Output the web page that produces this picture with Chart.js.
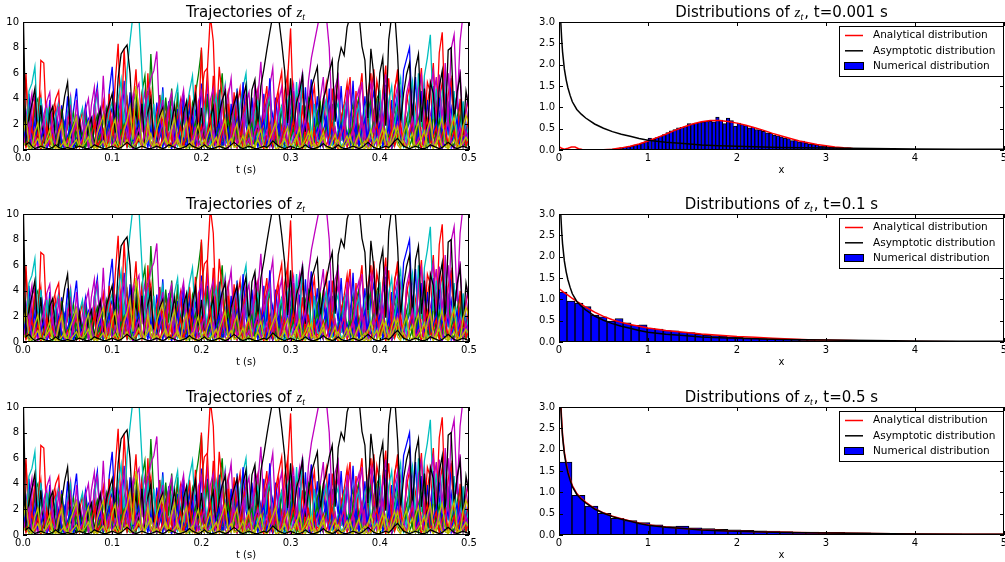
<!DOCTYPE html>
<html>
<head>
<meta charset="utf-8">
<script src="https://cdn.jsdelivr.net/npm/chart.js@4.4.0/dist/chart.umd.min.js"></script>
<style>
  body { margin: 0; width: 1005px; height: 562px; overflow: hidden; background: #fff; position: relative; }
  .panel { position: absolute; }
</style>
</head>
<body>
<script>
// time grid of the trajectories: 151 samples over 0..0.5 s
var tStep = 0.5 / 150;

// trajectories (same set in all three left panels)
var trajB1 = [
  3.5, 0.8, 4.4, 1.2, 3.1, 0.5, 4.0, 2.1, 0.7, 3.9,
  1.0, 2.7, 0.4, 3.5, 1.4, 4.2, 0.9, 3.1, 4.8, 1.1,
  0.6, 3.4, 1.5, 0.5, 3.5, 5.0, 1.2, 2.8, 0.9, 4.6,
  6.5, 1.9, 3.6, 0.8, 5.4, 1.5, 4.5, 0.7, 3.8, 1.3,
  4.1, 0.6, 4.6, 2.0, 0.9, 3.7, 1.1, 4.9, 0.8, 3.8,
  1.4, 0.5, 3.2, 1.0, 4.3, 0.7, 3.4, 1.6, 4.5, 0.9,
  5.2, 1.3, 4.4, 0.6, 3.2, 1.8, 4.7, 0.9, 2.5, 0.4,
  3.6, 1.2, 4.8, 0.7, 5.3, 1.9, 0.8, 4.1, 1.3, 3.0,
  0.6, 4.4, 1.5, 5.6, 0.9, 4.1, 1.4, 3.2, 0.5, 3.5,
  1.7, 4.6, 0.8, 3.7, 1.2, 4.9, 0.6, 5.5, 1.8, 4.2,
  0.9, 3.3, 1.4, 4.8, 0.7, 3.5, 1.6, 5.0, 0.8, 3.7,
  1.3, 5.4, 0.9, 4.1, 1.7, 4.2, 0.6, 3.4, 4.6, 1.1,
  3.8, 0.7, 5.1, 1.5, 3.9, 0.8, 4.5, 1.9, 6.2, 7.1,
  8.0, 2.2, 5.7, 0.9, 4.6, 1.3, 3.9, 0.7, 5.0, 1.6,
  4.1, 0.8, 4.4, 1.2, 5.6, 2.0, 4.5, 0.9, 3.3, 1.1,
  3.6
];
var trajG1 = [
  5.4, 1.2, 3.1, 0.6, 3.5, 4.0, 0.8, 1.9, 0.4, 3.4,
  0.9, 2.2, 0.5, 3.2, 1.0, 0.3, 2.1, 2.9, 0.6, 1.8,
  0.4, 2.8, 1.1, 0.3, 1.9, 2.7, 0.5, 2.4, 3.3, 0.8,
  0.4, 2.3, 3.1, 0.7, 2.9, 4.0, 1.0, 3.6, 4.6, 1.2,
  4.5, 5.8, 1.6, 7.5, 3.1, 1.3, 4.3, 0.9, 4.1, 1.5,
  4.8, 1.1, 4.5, 0.8, 2.5, 3.4, 0.7, 3.7, 4.4, 5.9,
  7.8, 2.2, 3.9, 1.0, 4.7, 0.8, 3.8, 6.0, 1.3, 3.1,
  0.6, 3.3, 1.0, 0.4, 2.7, 3.6, 0.7, 1.9, 0.5, 3.7,
  1.2, 0.4, 2.9, 3.8, 0.8, 1.9, 0.5, 3.5, 1.0, 0.3,
  2.5, 3.4, 0.7, 1.6, 0.4, 3.3, 4.0, 1.1, 0.5, 2.9,
  3.7, 0.9, 1.8, 0.4, 3.6, 1.0, 0.3, 2.6, 3.4, 0.8,
  0.4, 2.5, 3.3, 4.1, 1.2, 0.5, 3.0, 3.9, 0.9, 4.0,
  1.1, 0.4, 3.2, 0.8, 0.3, 2.5, 3.4, 0.7, 0.3, 2.4,
  3.3, 0.6, 0.3, 2.3, 3.2, 4.1, 1.0, 0.4, 2.8, 3.7,
  0.8, 0.3, 2.7, 3.6, 0.7, 0.3, 2.6, 3.5, 0.8, 0.4,
  2.3
];
var trajR1 = [
  2.1, 6.0, 0.8, 1.5, 4.1, 0.7, 7.0, 6.8, 1.2, 0.5,
  2.9, 4.0, 4.6, 0.6, 0.3, 2.2, 3.4, 0.5, 0.2, 1.9,
  3.1, 0.6, 0.3, 1.5, 2.7, 0.4, 2.4, 3.8, 0.7, 4.4,
  1.1, 5.2, 8.3, 1.6, 7.9, 3.6, 0.8, 3.3, 0.6, 2.9,
  4.2, 0.9, 6.0, 1.3, 0.5, 2.8, 4.0, 0.7, 0.4, 3.5,
  0.8, 0.3, 2.6, 3.9, 0.6, 2.4, 4.3, 1.0, 5.1, 1.4,
  8.0, 2.0, 6.2, 10.5, 8.5, 1.8, 6.5, 4.1, 0.9, 3.6,
  0.7, 4.5, 1.2, 0.5, 2.7, 3.8, 0.6, 0.4, 3.0, 4.6,
  0.9, 3.3, 5.0, 1.0, 0.5, 3.7, 4.9, 6.1, 1.3, 5.5,
  9.5, 2.4, 4.0, 0.8, 3.5, 0.5, 2.9, 4.1, 1.1, 0.6,
  0.4, 2.5, 3.9, 0.9, 4.8, 1.2, 0.6, 2.4, 3.6, 5.2,
  1.5, 0.7, 4.6, 1.0, 0.5, 2.8, 4.4, 6.0, 1.4, 5.4,
  4.1, 0.9, 3.7, 5.6, 1.2, 4.7, 6.3, 1.6, 0.8, 3.8,
  5.0, 1.1, 0.6, 4.2, 6.4, 1.5, 5.3, 4.5, 6.8, 2.0,
  7.6, 9.2, 2.5, 4.3, 5.5, 1.2, 0.8, 4.0, 1.0, 0.6,
  3.5
];
var trajC1 = [
  2.5, 0.7, 4.6, 5.2, 6.5, 1.8, 4.1, 0.8, 3.3, 0.5,
  0.4, 2.6, 3.5, 0.7, 0.3, 2.8, 4.0, 1.0, 0.5, 2.4,
  3.3, 0.6, 0.3, 2.0, 3.0, 4.5, 1.1, 0.6, 1.7, 2.9,
  3.8, 0.8, 4.0, 5.5, 1.4, 6.2, 8.5, 10.6, 11.0, 10.4,
  6.0, 1.2, 4.3, 0.8, 3.6, 0.6, 3.1, 4.4, 0.9, 0.4,
  2.7, 3.9, 5.0, 1.2, 0.6, 3.2, 4.6, 5.8, 1.5, 0.8,
  2.2, 3.4, 0.7, 0.4, 3.1, 4.2, 0.9, 3.7, 5.1, 1.3,
  0.6, 3.3, 4.5, 1.0, 0.5, 3.5, 0.8, 0.3, 2.8, 3.9,
  0.9, 0.4, 3.2, 4.3, 0.7, 0.3, 2.6, 3.4, 0.6, 3.8,
  4.6, 1.1, 5.3, 1.4, 6.1, 1.6, 3.2, 0.7, 3.6, 0.8,
  0.4, 2.8, 3.9, 0.8, 0.4, 2.9, 3.7, 0.7, 3.2, 4.1,
  0.9, 0.4, 2.7, 3.5, 0.6, 3.1, 4.2, 1.0, 0.5, 3.4,
  4.5, 1.1, 0.6, 3.8, 5.0, 1.3, 4.4, 5.6, 1.4, 0.7,
  4.2, 5.4, 1.3, 6.0, 1.8, 5.8, 7.2, 9.0, 2.4, 4.8,
  1.1, 4.5, 5.7, 1.3, 0.7, 4.6, 1.0, 0.5, 3.8, 0.8,
  2.1
];
var trajM1 = [
  1.8, 2.9, 0.6, 3.6, 4.2, 1.0, 0.5, 2.7, 3.8, 4.5,
  1.0, 0.4, 3.4, 0.7, 0.3, 2.5, 3.3, 0.6, 3.9, 1.0,
  0.5, 3.1, 4.0, 0.9, 3.6, 4.6, 1.2, 5.8, 1.4, 0.6,
  2.6, 3.5, 0.7, 3.7, 4.8, 1.1, 0.5, 3.9, 4.6, 5.2,
  1.4, 3.3, 4.4, 5.6, 6.2, 7.7, 2.0, 3.9, 0.8, 3.6,
  4.5, 1.0, 0.5, 3.5, 4.7, 1.1, 0.6, 3.4, 0.7, 3.8,
  4.6, 1.0, 0.5, 3.9, 4.8, 1.1, 0.6, 3.7, 4.9, 1.2,
  0.6, 3.5, 4.4, 0.9, 0.4, 3.6, 4.5, 1.0, 5.0, 4.1,
  6.9, 2.0, 3.7, 4.6, 1.0, 0.5, 3.8, 4.9, 1.1, 0.6,
  3.9, 5.1, 1.3, 4.7, 6.0, 1.6, 5.4, 7.2, 8.4, 9.6,
  10.8, 11.0, 10.5, 8.0, 2.3, 4.9, 5.8, 1.4, 0.7, 4.7,
  1.2, 0.6, 3.9, 4.8, 1.0, 0.5, 4.1, 5.2, 1.3, 3.3,
  0.7, 3.8, 4.9, 1.1, 0.6, 3.9, 5.0, 1.3, 0.6, 4.4,
  5.5, 1.4, 0.8, 4.6, 5.8, 1.5, 0.8, 4.8, 6.1, 1.6,
  5.9, 1.7, 6.8, 2.1, 7.9, 9.0, 3.2, 8.5, 10.6, 11.0,
  10.5
];
var trajY1 = [
  1.2, 2.5, 0.4, 0.2, 1.4, 2.1, 0.3, 0.1, 0.9, 1.6,
  0.3, 0.1, 1.3, 2.0, 0.4, 0.2, 1.2, 1.9, 2.6, 0.5,
  0.2, 1.5, 2.2, 0.4, 0.1, 1.3, 2.0, 2.7, 0.5, 0.2,
  1.7, 2.4, 0.5, 0.2, 1.6, 2.3, 3.4, 0.8, 5.0, 3.2,
  0.7, 0.3, 2.2, 0.5, 0.2, 1.6, 2.4, 3.0, 0.6, 0.3,
  1.7, 2.5, 0.5, 0.2, 1.5, 2.2, 0.4, 0.2, 1.3, 2.0,
  0.4, 0.2, 1.1, 1.8, 0.3, 0.1, 1.0, 1.7, 2.4, 0.5,
  0.2, 1.4, 2.1, 0.4, 0.1, 1.2, 1.9, 0.4, 0.1, 1.0,
  1.6, 0.3, 0.1, 0.9, 1.5, 2.2, 0.4, 0.1, 1.2, 1.8,
  0.3, 0.1, 1.0, 1.7, 0.3, 0.1, 0.9, 1.5, 0.2, 0.1,
  0.8, 1.4, 0.2, 0.1, 0.7, 1.2, 0.2, 0.1, 0.6, 1.1,
  0.2, 0.1, 0.7, 1.3, 0.2, 0.1, 0.9, 1.6, 0.3, 0.1,
  1.0, 1.7, 0.3, 0.1, 1.2, 1.9, 0.4, 0.1, 1.3, 2.0,
  0.4, 0.2, 1.5, 2.2, 0.4, 0.2, 1.6, 2.4, 0.5, 0.2,
  1.7, 2.5, 0.5, 0.2, 1.8, 2.6, 0.5, 0.2, 1.8, 2.7,
  1.9
];
var trajK1 = [
  4.0, 0.9, 2.5, 3.6, 4.8, 0.8, 3.5, 0.6, 0.3, 2.8,
  3.4, 0.6, 0.3, 2.6, 4.2, 5.3, 1.2, 0.5, 0.2, 2.3,
  0.4, 0.2, 1.8, 2.5, 0.3, 2.1, 3.2, 0.5, 2.8, 3.6,
  4.4, 1.3, 5.6, 7.5, 7.9, 8.2, 6.0, 1.5, 3.2, 0.6,
  3.6, 0.5, 2.9, 4.0, 0.6, 0.3, 2.7, 3.3, 0.5, 0.3,
  2.2, 3.5, 0.6, 0.3, 2.9, 3.8, 0.6, 3.1, 4.3, 0.8,
  3.3, 0.5, 0.3, 2.5, 3.4, 0.5, 2.8, 3.9, 4.6, 1.1,
  2.7, 3.6, 4.4, 1.0, 4.0, 5.1, 1.4, 4.7, 5.5, 1.6,
  5.0, 6.3, 7.8, 9.2, 10.5, 11.0, 10.3, 8.4, 6.2, 2.1,
  5.6, 1.5, 3.7, 4.5, 5.8, 1.4, 3.4, 4.9, 5.7, 6.5,
  2.0, 4.0, 4.8, 6.1, 7.0, 2.2, 6.8, 8.0, 7.4, 9.6,
  10.4, 11.0, 10.2, 10.6, 8.1, 7.0, 2.5, 7.9, 5.8, 1.7,
  6.0, 7.2, 1.9, 8.6, 10.5, 10.8, 7.4, 2.1, 4.4, 5.9,
  6.8, 1.9, 6.4, 7.5, 2.2, 4.8, 1.1, 5.3, 4.4, 1.0,
  4.9, 6.2, 1.6, 7.8, 8.0, 2.3, 4.5, 5.8, 1.2, 4.6,
  3.2
];
var trajB2 = [
  1.5, 2.9, 0.4, 0.2, 1.6, 2.5, 0.5, 0.2, 1.8, 2.9,
  0.6, 0.2, 0.7, 1.4, 2.2, 0.5, 0.2, 1.7, 2.6, 0.6,
  0.2, 0.6, 1.3, 2.1, 3.0, 0.7, 0.3, 0.8, 1.5, 2.4,
  3.3, 0.8, 0.3, 1.0, 1.9, 2.8, 3.8, 0.9, 0.4, 1.1,
  1.9, 2.9, 0.6, 0.2, 0.7, 1.5, 2.4, 0.5, 2.7, 3.5,
  0.8, 0.3, 0.9, 1.7, 2.6, 0.6, 0.2, 2.0, 3.0, 0.7,
  0.3, 0.8, 1.6, 2.5, 0.5, 2.8, 3.7, 0.9, 0.4, 1.0,
  1.8, 2.7, 0.6, 0.2, 2.1, 3.1, 0.7, 0.3, 0.8, 1.6,
  2.5, 0.6, 0.2, 1.9, 2.9, 0.7, 3.2, 0.8, 0.3, 2.2,
  3.1, 0.7, 0.3, 0.9, 1.7, 2.6, 0.6, 0.2, 2.0, 2.9,
  0.7, 0.3, 2.2, 3.3, 0.8, 0.3, 0.9, 1.8, 2.7, 0.6,
  0.3, 2.1, 3.0, 0.7, 0.3, 2.3, 3.4, 0.8, 0.3, 1.0,
  1.8, 2.8, 0.6, 0.3, 2.2, 3.2, 4.3, 1.0, 0.4, 1.4,
  2.3, 3.4, 0.8, 0.3, 2.5, 3.6, 0.8, 0.3, 1.0, 1.9,
  2.9, 0.7, 0.3, 2.2, 3.3, 0.8, 0.3, 2.5, 3.5, 0.8,
  1.6
];
var trajG2 = [
  0.6, 1.0, 0.2, 0.9, 1.5, 0.3, 0.1, 0.8, 1.3, 0.3,
  0.1, 0.7, 1.2, 0.2, 1.3, 2.0, 0.4, 0.2, 1.4, 2.1,
  0.4, 0.2, 1.5, 2.3, 0.5, 0.2, 0.6, 1.1, 1.8, 0.4,
  2.0, 2.9, 0.6, 0.2, 0.8, 1.4, 2.2, 0.5, 0.2, 1.5,
  2.4, 0.5, 2.6, 3.5, 0.8, 0.3, 1.0, 1.7, 2.7, 0.6,
  0.3, 1.9, 3.0, 0.7, 0.3, 2.2, 3.3, 0.7, 0.3, 0.9,
  1.6, 2.5, 0.5, 0.2, 1.9, 2.8, 0.6, 0.2, 0.7, 1.3,
  2.1, 0.4, 0.2, 1.4, 2.2, 0.5, 0.2, 1.6, 2.5, 0.5,
  0.2, 1.7, 2.6, 0.6, 0.2, 0.6, 1.2, 1.9, 0.4, 0.2,
  1.3, 2.1, 0.4, 0.2, 1.6, 2.4, 0.5, 0.2, 1.8, 2.7,
  0.6, 0.2, 2.0, 3.0, 0.7, 0.3, 0.8, 1.5, 2.4, 0.5,
  2.6, 3.6, 0.8, 0.3, 1.1, 1.9, 2.9, 0.6, 3.1, 4.0,
  4.5, 1.0, 0.4, 1.4, 2.3, 3.3, 0.7, 0.3, 0.9, 1.6,
  2.5, 0.5, 0.2, 1.8, 2.8, 0.6, 0.2, 2.1, 3.1, 0.7,
  0.3, 0.8, 1.5, 2.4, 0.5, 0.2, 1.8, 2.7, 0.6, 0.2,
  0.7
];
var trajR2 = [
  3.2, 5.5, 1.2, 2.7, 0.6, 2.9, 4.3, 0.9, 0.4, 1.4,
  2.3, 3.4, 0.7, 0.3, 1.0, 1.8, 2.7, 0.5, 0.2, 0.7,
  1.3, 2.1, 0.4, 0.2, 1.6, 2.5, 0.5, 0.2, 1.9, 2.8,
  0.6, 0.3, 2.2, 3.2, 0.7, 0.3, 2.5, 3.6, 6.3, 1.6,
  3.1, 0.7, 3.3, 4.6, 1.0, 0.4, 1.5, 2.4, 3.5, 0.8,
  0.3, 2.6, 3.8, 0.8, 0.3, 2.9, 4.1, 0.9, 0.4, 3.1,
  4.4, 6.1, 6.4, 1.5, 5.8, 1.3, 3.0, 0.7, 3.2, 4.5,
  1.0, 0.4, 3.4, 4.8, 1.1, 0.5, 1.6, 2.6, 3.7, 0.8,
  0.3, 2.8, 4.0, 0.9, 0.4, 3.1, 4.4, 1.0, 4.6, 5.9,
  1.4, 3.0, 0.7, 3.2, 4.5, 1.0, 0.4, 3.5, 5.0, 1.1,
  0.5, 3.7, 5.2, 1.2, 0.5, 3.9, 5.5, 1.2, 0.6, 4.0,
  5.7, 1.3, 0.6, 4.2, 6.0, 1.4, 0.6, 4.4, 6.3, 1.5,
  0.7, 4.6, 6.6, 1.5, 0.7, 4.9, 5.8, 1.3, 0.6, 4.3,
  3.1, 0.7, 3.3, 4.7, 1.0, 0.4, 3.6, 5.1, 1.2, 0.5,
  3.8, 5.3, 1.2, 0.5, 1.9, 2.9, 4.1, 0.9, 0.4, 3.0,
  4.2
];
var trajC2 = [
  0.9, 1.5, 2.4, 0.5, 0.2, 1.7, 2.6, 0.5, 0.2, 0.6,
  1.1, 1.8, 0.4, 0.1, 1.3, 2.1, 0.4, 0.2, 0.4, 0.8,
  1.4, 2.2, 0.4, 0.2, 1.6, 2.5, 0.5, 0.2, 0.6, 1.1,
  1.9, 0.4, 0.2, 1.2, 2.0, 0.4, 0.2, 1.4, 2.3, 0.5,
  2.6, 3.6, 0.8, 0.3, 1.0, 1.8, 2.8, 0.6, 0.3, 2.0,
  3.1, 0.7, 0.3, 2.2, 3.4, 0.7, 0.3, 0.9, 1.6, 2.5,
  0.5, 0.2, 1.8, 2.9, 0.6, 3.2, 4.4, 1.0, 0.4, 1.4,
  2.3, 3.5, 0.8, 3.6, 4.9, 6.0, 1.4, 2.9, 0.6, 1.3,
  0.3, 1.4, 0.2, 0.5, 0.9, 1.5, 0.2, 0.5, 0.1, 0.6,
  1.1, 0.2, 0.4, 0.8, 1.3, 0.2, 0.4, 0.7, 1.2, 0.2,
  0.4, 0.8, 1.4, 0.2, 0.5, 0.9, 1.6, 0.3, 0.6, 1.0,
  1.8, 0.3, 0.6, 1.1, 1.9, 0.3, 0.7, 0.1, 0.8, 1.3,
  0.2, 0.4, 0.7, 1.2, 0.2, 0.4, 0.8, 1.4, 0.2, 0.5,
  1.0, 1.7, 0.3, 0.6, 1.1, 1.9, 0.3, 0.7, 1.3, 2.1,
  0.4, 0.8, 1.5, 2.4, 0.5, 1.0, 0.2, 1.1, 1.8, 0.3,
  0.7
];
var trajM2 = [
  2.8, 0.6, 3.0, 4.4, 0.9, 2.1, 0.4, 2.3, 3.5, 0.7,
  1.6, 2.6, 3.8, 0.8, 0.3, 2.9, 4.2, 0.9, 2.0, 0.4,
  2.2, 3.3, 0.7, 3.5, 4.9, 1.0, 2.4, 0.5, 2.6, 3.7,
  0.8, 1.7, 2.8, 4.0, 0.8, 0.3, 3.0, 4.3, 0.9, 2.0,
  3.2, 4.6, 1.0, 2.2, 0.4, 2.4, 3.6, 0.8, 1.7, 2.7,
  3.9, 0.8, 1.9, 3.0, 4.3, 0.9, 2.1, 0.4, 2.3, 3.4,
  0.7, 3.6, 5.1, 1.1, 2.5, 0.5, 2.7, 3.9, 0.8, 4.1,
  5.6, 1.2, 2.8, 0.5, 3.0, 4.4, 0.9, 2.2, 3.3, 4.7,
  1.0, 2.3, 3.5, 5.0, 6.4, 1.4, 3.2, 0.6, 3.4, 4.8,
  1.0, 2.4, 3.6, 5.2, 1.1, 2.6, 3.9, 5.5, 1.2, 2.7,
  4.0, 5.7, 1.2, 2.9, 0.6, 3.1, 4.5, 1.0, 2.3, 3.4,
  4.9, 1.1, 2.5, 3.7, 5.3, 1.1, 2.7, 4.0, 5.6, 1.2,
  2.8, 4.1, 5.9, 1.3, 3.0, 0.6, 3.2, 4.6, 1.0, 2.3,
  3.5, 5.0, 1.1, 2.5, 3.7, 5.3, 1.2, 2.7, 4.0, 5.7,
  1.2, 2.9, 4.2, 6.0, 1.3, 3.0, 4.4, 6.3, 1.4, 3.2,
  4.6
];
var trajY2 = [
  0.3, 0.6, 0.1, 0.2, 0.5, 0.9, 0.2, 0.3, 0.6, 1.0,
  0.2, 0.3, 0.1, 0.4, 0.7, 0.1, 0.2, 0.5, 0.8, 0.2,
  0.3, 0.6, 1.0, 0.2, 0.3, 0.1, 0.4, 0.7, 0.1, 0.2,
  0.3, 0.6, 0.1, 0.2, 0.4, 0.8, 0.2, 0.3, 0.6, 1.1,
  0.2, 0.4, 0.8, 1.3, 0.3, 0.5, 0.1, 0.6, 1.0, 0.2,
  0.3, 0.5, 0.9, 0.2, 0.3, 0.1, 0.4, 0.7, 0.1, 0.2,
  0.4, 0.8, 0.2, 0.3, 0.6, 1.0, 0.2, 0.3, 0.1, 0.5,
  0.9, 0.2, 0.3, 0.6, 1.1, 0.2, 0.4, 0.1, 0.4, 0.8,
  0.2, 0.3, 0.1, 0.4, 0.7, 0.1, 0.2, 0.5, 0.9, 0.2,
  0.3, 0.6, 1.1, 0.2, 0.4, 0.8, 1.4, 0.3, 0.5, 0.1,
  0.6, 1.0, 0.2, 0.3, 0.1, 0.5, 0.8, 0.2, 0.3, 0.6,
  1.1, 0.2, 0.4, 0.1, 0.4, 0.7, 0.1, 0.2, 0.5, 0.9,
  0.2, 1.0, 1.6, 0.3, 0.6, 1.1, 1.8, 0.4, 0.7, 0.1,
  0.8, 1.3, 0.2, 0.5, 0.9, 1.5, 0.3, 0.5, 0.1, 0.6,
  1.0, 0.2, 0.3, 0.1, 0.4, 0.8, 0.2, 0.3, 0.6, 1.0,
  0.6
];
var trajK2 = [
  12.0, 0.4, 0.6, 0.3, 0.1, 0.2, 0.3, 0.2, 0.1, 0.1,
  0.2, 0.4, 0.2, 0.1, 0.1, 0.2, 0.1, 0.1, 0.2, 0.3,
  0.2, 0.1, 0.1, 0.2, 0.4, 0.3, 0.2, 0.1, 0.1, 0.2,
  0.3, 0.2, 0.1, 0.2, 0.4, 0.6, 0.4, 0.2, 0.1, 0.2,
  0.3, 0.2, 0.1, 0.1, 0.2, 0.3, 0.2, 0.1, 0.2, 0.4,
  0.3, 0.2, 0.1, 0.1, 0.2, 0.3, 0.5, 0.3, 0.2, 0.1,
  0.2, 0.4, 0.2, 0.1, 0.1, 0.2, 0.3, 0.2, 0.1, 0.2,
  0.4, 0.6, 0.4, 0.2, 0.1, 0.2, 0.3, 0.2, 0.1, 0.1,
  0.2, 0.3, 0.2, 0.4, 0.7, 0.5, 0.3, 0.2, 0.1, 0.2,
  0.3, 0.2, 0.1, 0.1, 0.2, 0.4, 0.2, 0.1, 0.1, 0.2,
  0.3, 0.5, 0.3, 0.2, 0.1, 0.2, 0.4, 0.2, 0.1, 0.1,
  0.2, 0.3, 0.2, 0.1, 0.2, 0.4, 0.6, 0.4, 0.2, 0.1,
  0.1, 0.2, 0.3, 0.2, 0.4, 0.7, 0.9, 0.6, 0.3, 0.2,
  0.1, 0.2, 0.3, 0.2, 0.1, 0.1, 0.2, 0.4, 0.3, 0.2,
  0.1, 0.2, 0.4, 0.6, 0.4, 0.2, 0.1, 0.2, 0.3, 0.2,
  0.1
];
var trajB3 = [
  0.4, 1.8, 0.3, 1.2, 2.2, 0.2, 0.9, 1.6, 0.1, 0.7,
  1.5, 0.3, 2.0, 0.5, 0.1, 1.1, 1.9, 0.2, 0.8, 1.4,
  0.2, 1.7, 2.4, 0.4, 0.1, 1.0, 1.8, 0.3, 1.3, 2.1,
  0.3, 0.9, 1.6, 0.2, 1.2, 2.0, 0.4, 0.1, 1.5, 2.3,
  0.4, 1.1, 0.2, 1.7, 0.3, 1.0, 1.9, 0.2, 1.4, 0.5,
  0.1, 1.2, 2.2, 0.4, 0.9, 0.2, 1.6, 2.5, 0.3, 1.1,
  1.8, 0.2, 0.8, 1.5, 0.1, 1.3, 2.1, 0.3, 0.9, 1.7,
  0.2, 1.4, 2.4, 0.4, 0.1, 1.0, 1.8, 0.3, 1.2, 0.2,
  1.6, 2.3, 0.3, 0.9, 0.1, 1.4, 2.0, 0.4, 1.1, 1.9,
  0.2, 0.8, 1.5, 0.3, 1.3, 2.2, 0.4, 0.1, 1.0, 1.7,
  0.3, 1.5, 2.5, 0.4, 0.9, 0.2, 1.2, 2.0, 0.3, 1.4,
  0.1, 1.1, 1.9, 0.3, 1.6, 2.4, 0.4, 0.8, 0.2, 1.3,
  2.1, 0.3, 1.0, 1.8, 0.2, 1.5, 2.6, 0.4, 0.9, 0.1,
  1.2, 2.0, 0.3, 1.4, 0.2, 0.9, 1.7, 0.3, 1.3, 2.2,
  0.4, 0.1, 1.1, 1.9, 0.2, 1.6, 2.4, 0.3, 0.8, 1.5,
  0.3
];
var trajR3 = [
  1.1, 0.2, 0.9, 1.7, 0.3, 1.4, 0.1, 0.8, 2.0, 0.4,
  1.2, 0.2, 1.6, 2.3, 0.3, 0.9, 0.1, 1.3, 1.9, 0.2,
  0.7, 1.5, 0.3, 1.1, 2.1, 0.2, 0.8, 1.6, 0.1, 1.2,
  2.2, 0.4, 0.1, 1.0, 1.8, 0.3, 1.4, 2.5, 0.4, 0.9,
  0.2, 1.3, 2.0, 0.3, 0.8, 1.7, 0.1, 1.1, 2.3, 0.4,
  1.5, 0.2, 0.9, 1.8, 0.3, 1.2, 2.4, 0.4, 0.1, 1.0,
  1.9, 0.3, 1.4, 2.6, 0.4, 0.9, 0.2, 1.3, 2.1, 0.3,
  1.0, 1.8, 0.2, 1.5, 0.1, 0.9, 1.6, 0.3, 1.2, 2.2,
  0.4, 0.1, 1.1, 2.0, 0.3, 1.4, 0.2, 0.8, 1.7, 0.2,
  1.3, 2.3, 0.4, 0.9, 0.1, 1.2, 2.0, 0.3, 1.5, 0.2,
  0.8, 1.6, 0.3, 1.1, 2.2, 0.4, 0.1, 1.3, 1.9, 0.2,
  1.0, 1.7, 0.3, 1.4, 2.5, 0.4, 0.9, 0.2, 1.2, 2.0,
  0.3, 1.5, 0.1, 0.8, 1.6, 0.3, 1.1, 2.1, 0.4, 0.2,
  1.3, 2.2, 0.3, 0.9, 0.1, 1.4, 2.4, 0.4, 1.0, 1.8,
  0.2, 1.2, 2.0, 0.3, 0.8, 1.5, 0.2, 1.1, 1.9, 0.3,
  1.0
];
var trajM3 = [
  0.2, 1.3, 2.1, 0.4, 1.0, 0.1, 1.5, 2.4, 0.3, 0.8,
  1.7, 0.2, 1.1, 2.0, 0.3, 0.7, 0.1, 1.4, 2.2, 0.4,
  0.9, 1.8, 0.2, 1.2, 0.1, 1.6, 2.5, 0.4, 0.8, 1.5,
  0.2, 1.0, 1.9, 0.3, 1.4, 2.3, 0.4, 0.1, 1.1, 1.7,
  0.3, 1.5, 2.6, 0.4, 0.9, 0.2, 1.3, 2.1, 0.3, 1.0,
  1.8, 0.2, 1.2, 0.1, 1.6, 2.4, 0.4, 0.9, 1.7, 0.2,
  1.1, 2.0, 0.3, 0.8, 1.5, 0.2, 1.3, 2.2, 0.4, 0.1,
  1.2, 2.1, 0.3, 1.6, 2.7, 0.4, 0.9, 0.2, 1.4, 2.0,
  0.3, 0.8, 1.5, 0.2, 1.1, 1.9, 0.3, 1.3, 2.3, 0.4,
  0.1, 1.0, 1.8, 0.3, 1.5, 2.5, 0.4, 0.9, 0.2, 1.2,
  2.0, 0.3, 1.4, 0.1, 0.9, 1.7, 0.3, 1.2, 2.2, 0.4,
  0.8, 1.6, 0.2, 1.3, 2.4, 0.4, 0.1, 1.0, 1.9, 0.3,
  1.5, 2.6, 0.4, 0.9, 0.2, 1.3, 2.1, 0.3, 1.1, 0.1,
  1.6, 2.5, 0.4, 0.8, 1.4, 0.2, 1.2, 2.2, 0.3, 0.9,
  1.7, 0.2, 1.3, 2.4, 0.4, 0.1, 1.0, 1.8, 0.3, 1.5,
  0.6
];
var trajG3 = [
  1.6, 0.3, 0.8, 0.1, 1.2, 1.9, 0.2, 1.0, 0.4, 1.5,
  0.2, 0.9, 1.7, 0.3, 1.1, 0.1, 1.4, 2.1, 0.3, 0.7,
  1.3, 0.2, 1.0, 1.8, 0.3, 0.6, 1.2, 0.1, 1.5, 2.2,
  0.4, 0.8, 0.2, 1.3, 2.0, 0.3, 0.9, 0.1, 1.1, 1.8,
  0.3, 1.4, 2.3, 0.4, 0.7, 0.1, 1.2, 1.9, 0.3, 0.9,
  1.6, 0.2, 1.1, 2.0, 0.3, 0.8, 0.1, 1.4, 2.2, 0.4,
  0.9, 1.7, 0.2, 1.2, 0.1, 1.0, 1.8, 0.3, 1.5, 2.4,
  0.4, 0.8, 1.6, 0.2, 1.1, 0.1, 1.3, 2.1, 0.3, 0.7,
  1.4, 0.2, 1.0, 1.9, 0.3, 0.8, 0.1, 1.2, 2.0, 0.3,
  0.9, 1.7, 0.2, 1.3, 0.1, 1.0, 1.8, 0.3, 1.4, 2.3,
  0.4, 0.7, 1.5, 0.2, 1.1, 0.1, 1.3, 2.2, 0.3, 0.9,
  1.6, 0.2, 1.0, 1.9, 0.3, 0.8, 0.1, 1.2, 2.1, 0.4,
  0.7, 1.5, 0.2, 1.1, 0.1, 0.9, 1.7, 0.3, 1.3, 2.2,
  0.3, 1.0, 1.8, 0.2, 1.2, 0.1, 0.8, 1.6, 0.3, 1.4,
  2.3, 0.4, 0.9, 0.1, 1.1, 1.9, 0.3, 1.0, 0.2, 1.5,
  0.8
];

// matplotlib classic colour letters and the drawing order (first drawn lies underneath)
var colorOf = {b: '#0000ff', g: '#008000', r: '#ff0000', c: '#00bfbf', m: '#bf00bf', y: '#bfbf00', k: '#000000'};
var trajSeries = [
  [trajB2, 'b'], [trajG2, 'g'], [trajR2, 'r'], [trajC2, 'c'], [trajM2, 'm'],
  [trajB1, 'b'], [trajG1, 'g'], [trajR1, 'r'], [trajC1, 'c'], [trajM1, 'm'], [trajK1, 'k'],
  [trajG3, 'g'], [trajB3, 'b'], [trajR3, 'r'], [trajM3, 'm'],
  [trajY1, 'y'], [trajY2, 'y'], [trajK2, 'k']
];

// asymptotic distribution (same curve in every right panel)
var asymX = [0.015, 0.02, 0.03, 0.04, 0.06, 0.08, 0.1, 0.125, 0.15, 0.2, 0.25, 0.3, 0.4, 0.5, 0.6,
             0.7, 0.8, 0.9, 1.0, 1.2, 1.4, 1.6, 1.8, 2.0, 2.5, 3.0, 3.5, 4.0, 4.5, 5.0];
var asymY = [3.4, 3.0, 2.6, 2.3, 1.9, 1.65, 1.46, 1.28, 1.13, 0.95, 0.84, 0.75, 0.61, 0.51, 0.43,
             0.37, 0.32, 0.27, 0.23, 0.18, 0.15, 0.12, 0.10, 0.085, 0.06, 0.045, 0.033, 0.025, 0.02, 0.015];

// analytical distributions
var ana1X = [0, 0.03, 0.06, 0.1, 0.14, 0.18, 0.22, 0.26, 0.3, 0.4, 0.5, 0.6, 0.7, 0.8, 0.9, 1.0,
             1.1, 1.2, 1.3, 1.4, 1.5, 1.6, 1.7, 1.8, 1.9, 2.0, 2.1, 2.2, 2.3, 2.4, 2.5, 2.6, 2.7,
             2.8, 2.9, 3.0, 3.1, 3.2, 3.3, 3.4, 3.5, 3.6, 3.8, 4.0, 4.5, 5.0];
var ana1Y = [0.08, 0.04, 0.02, 0.04, 0.07, 0.07, 0.03, 0.01, 0, 0, 0.005, 0.02, 0.05, 0.09, 0.14, 0.21,
             0.29, 0.37, 0.46, 0.54, 0.61, 0.66, 0.69, 0.69, 0.67, 0.63, 0.58, 0.52, 0.46, 0.39, 0.33, 0.27, 0.21,
             0.17, 0.13, 0.10, 0.07, 0.05, 0.035, 0.025, 0.015, 0.01, 0.005, 0, 0, 0];
var ana2X = [0, 0.05, 0.1, 0.15, 0.2, 0.3, 0.4, 0.5, 0.6, 0.7, 0.8, 0.9, 1.0, 1.2, 1.4, 1.6, 1.8,
             2.0, 2.2, 2.4, 2.6, 2.8, 3.0, 3.5, 4.0, 4.5, 5.0];
var ana2Y = [1.25, 1.17, 1.10, 1.02, 0.95, 0.82, 0.70, 0.60, 0.52, 0.46, 0.41, 0.37, 0.33, 0.27, 0.23, 0.19, 0.16,
             0.13, 0.11, 0.09, 0.07, 0.055, 0.045, 0.025, 0.013, 0.007, 0.004];
var ana3X = asymX;
var ana3Y = [3.5, 3.1, 2.7, 2.35, 1.95, 1.7, 1.5, 1.31, 1.16, 0.97, 0.86, 0.77, 0.62, 0.52, 0.44,
             0.38, 0.33, 0.28, 0.24, 0.19, 0.155, 0.125, 0.105, 0.088, 0.062, 0.046, 0.034, 0.026, 0.02, 0.015];

// numerical histograms: first bin edge, bin width, bar heights
var hist1Start = 0.48, hist1Width = 0.04;
var hist1 = [0.01, 0.01, 0.02, 0.03, 0.03, 0.05, 0.06, 0.08, 0.09, 0.12,
             0.13, 0.17, 0.20, 0.28, 0.25, 0.29, 0.32, 0.36, 0.41, 0.45,
             0.48, 0.52, 0.53, 0.55, 0.62, 0.61, 0.63, 0.65, 0.66, 0.67,
             0.68, 0.66, 0.77, 0.70, 0.62, 0.75, 0.69, 0.56, 0.63, 0.60,
             0.57, 0.52, 0.53, 0.48, 0.47, 0.44, 0.40, 0.39, 0.35, 0.33,
             0.31, 0.28, 0.27, 0.22, 0.23, 0.19, 0.21, 0.16, 0.14, 0.13,
             0.12, 0.10, 0.09, 0.08, 0.07, 0.06, 0.05, 0.04, 0.04, 0.05,
             0.03, 0.02, 0.02, 0.01, 0.01, 0.01, 0.005, 0.005];
var hist2Start = 0, hist2Width = 0.09;
var hist2 = [1.17, 0.96, 0.91, 0.83, 0.63, 0.59, 0.49, 0.55, 0.45, 0.39,
             0.40, 0.32, 0.30, 0.27, 0.26, 0.23, 0.22, 0.18, 0.16, 0.15,
             0.14, 0.12, 0.11, 0.10, 0.09, 0.08, 0.07, 0.065, 0.06, 0.05,
             0.045, 0.04, 0.035, 0.03, 0.03, 0.025, 0.02, 0.02, 0.015, 0.015,
             0.012, 0.01, 0.01, 0.008, 0.007, 0.006, 0.005, 0.004, 0.004, 0.003,
             0.003, 0.002, 0.002, 0.002, 0.001];
var hist3Start = 0, hist3Width = 0.146;
var hist3 = [1.71, 0.93, 0.68, 0.51, 0.39, 0.34, 0.29, 0.24, 0.20, 0.21,
             0.17, 0.15, 0.13, 0.12, 0.11, 0.10, 0.09, 0.08, 0.07, 0.07,
             0.06, 0.06, 0.05, 0.05, 0.04, 0.04, 0.04, 0.03, 0.03, 0.03,
             0.03, 0.02, 0.02, 0.02];

var distTimes = ['0.001', '0.1', '0.5'];
var leftTicksX = [0, 0.1, 0.2, 0.3, 0.4, 0.5];

// layout of the six axes boxes (page pixels)
var rowTop = [22, 214, 407];
var boxH = 128;
var xAxisH = 26;

function zip(xs, ys) {
  return xs.map(function (x, i) { return {x: x, y: ys[i]}; });
}

var framePlugin = {
  id: 'frame',
  afterDraw: function (chart, args, o) {
    var ctx = chart.ctx, a = chart.chartArea, sx = chart.scales.x, sy = chart.scales.y;
    ctx.save();
    ctx.strokeStyle = '#000';
    ctx.lineWidth = 1;
    ctx.strokeRect(Math.round(a.left) + 0.5, Math.round(a.top) + 0.5,
                   Math.round(a.right - a.left) - 1, Math.round(a.bottom - a.top) - 1);
    ctx.beginPath();
    sx.ticks.forEach(function (t) {
      var p = Math.round(sx.getPixelForValue(t.value)) + 0.5;
      ctx.moveTo(p, a.bottom); ctx.lineTo(p, a.bottom - 4);
      ctx.moveTo(p, a.top); ctx.lineTo(p, a.top + 4);
    });
    sy.ticks.forEach(function (t) {
      var p = Math.round(sy.getPixelForValue(t.value)) + 0.5;
      ctx.moveTo(a.left, p); ctx.lineTo(a.left + 4, p);
      ctx.moveTo(a.right, p); ctx.lineTo(a.right - 4, p);
    });
    ctx.stroke();

    // title with math z_t
    var parts = o.title;
    var cx = (a.left + a.right) / 2, base = a.top - 5;
    ctx.fillStyle = '#000';
    ctx.textBaseline = 'alphabetic';
    ctx.textAlign = 'left';
    var fMain = '15px "DejaVu Sans"', fZ = 'italic 15px "Liberation Serif"', fSub = 'italic 10px "Liberation Serif"';
    ctx.font = fMain; var w1 = ctx.measureText(parts[0]).width;
    var w3 = parts[1] ? ctx.measureText(parts[1]).width : 0;
    ctx.font = fZ; var wz = ctx.measureText('z').width;
    ctx.font = fSub; var wt = ctx.measureText('t').width + 1;
    var x = cx - (w1 + wz + wt + w3) / 2;
    ctx.font = fMain; ctx.fillText(parts[0], x, base); x += w1;
    ctx.font = fZ; ctx.fillText('z', x, base); x += wz;
    ctx.font = fSub; ctx.fillText('t', x, base + 3); x += wt;
    if (parts[1]) { ctx.font = fMain; ctx.fillText(parts[1], x, base); }

    if (o.legend) {
      var lx = a.right - 165, ly = a.top + 4.5;
      ctx.fillStyle = '#fff';
      ctx.fillRect(lx, ly, 164.5, 50);
      ctx.strokeRect(Math.round(lx) + 0.5, ly, 164, 50);
      ctx.font = '10.5px "DejaVu Sans"';
      ctx.textBaseline = 'middle';
      var rows = [
        ['Analytical distribution', 'line', '#ff0000'],
        ['Asymptotic distribution', 'line', '#000000'],
        ['Numerical distribution', 'patch', '#0000ff']
      ];
      var ys = [a.top + 13.5, a.top + 28.8, a.top + 44];
      rows.forEach(function (r, i) {
        var y = ys[i];
        if (r[1] === 'line') {
          ctx.strokeStyle = r[2]; ctx.lineWidth = 1.5;
          ctx.beginPath(); ctx.moveTo(a.right - 159, y); ctx.lineTo(a.right - 141, y); ctx.stroke();
        } else {
          ctx.fillStyle = r[2];
          ctx.fillRect(a.right - 160, y - 3.5, 20, 7);
          ctx.strokeStyle = '#000'; ctx.lineWidth = 1;
          ctx.strokeRect(a.right - 159.5, y - 3.5, 19, 7);
        }
        ctx.fillStyle = '#000';
        ctx.fillText(r[0], a.right - 131, y);
      });
    }
    ctx.restore();
  }
};

function axisTicks(step, fmt) {
  return {
    color: '#000', font: {family: 'DejaVu Sans', size: 10}, padding: 2,
    maxRotation: 0, autoSkip: false, stepSize: step, callback: fmt
  };
}

function makePanel(left, top, width, yWidth, padRight, config) {
  var div = document.createElement('div');
  div.className = 'panel';
  div.style.left = left + 'px';
  div.style.top = (top - 22) + 'px';
  div.style.width = width + 'px';
  div.style.height = (22 + boxH + xAxisH) + 'px';
  var cv = document.createElement('canvas');
  div.appendChild(cv);
  document.body.appendChild(div);
  config.options.responsive = true;
  config.options.maintainAspectRatio = false;
  config.options.animation = false;
  config.options.layout = {padding: {top: 22, left: 0, right: padRight, bottom: 0}};
  config.options.scales.y.afterFit = function (s) { s.width = yWidth; };
  config.options.scales.x.afterFit = function (s) { s.height = xAxisH; };
  config.plugins = [framePlugin];
  return new Chart(cv, config);
}

function xTitle(text) {
  return {display: true, text: text, color: '#000', font: {family: 'DejaVu Sans', size: 10}, padding: {top: 0, bottom: 0}};
}

// left column: trajectories
rowTop.forEach(function (top) {
  var datasets = trajSeries.map(function (s, k) {
    return {
      data: s[0].map(function (v, i) { return {x: i * tStep, y: v}; }),
      borderColor: colorOf[s[1]], borderWidth: 1.3, pointRadius: 0, tension: 0,
      order: trajSeries.length - k
    };
  });
  makePanel(0, top, 480, 23, 11, {
    type: 'line',
    data: {datasets: datasets},
    options: {
      plugins: {legend: {display: false}, tooltip: {enabled: false},
                frame: {title: ['Trajectories of ', null], legend: false}},
      scales: {
        x: {type: 'linear', min: 0, max: 0.5, grid: {display: false, drawTicks: false}, border: {display: false},
            afterBuildTicks: function (s) { s.ticks = leftTicksX.map(function (v) { return {value: v}; }); },
            ticks: axisTicks(0.1, function (v) { return v.toFixed(1); }), title: xTitle('t (s)')},
        y: {min: 0, max: 10, grid: {display: false, drawTicks: false}, border: {display: false},
            ticks: Object.assign(axisTicks(2, function (v) { return v; }), {padding: 4})}
      }
    }
  });
});

// right column: distributions
var anaX = [ana1X, ana2X, ana3X], anaY = [ana1Y, ana2Y, ana3Y];
var hists = [[hist1Start, hist1Width, hist1], [hist2Start, hist2Width, hist2], [hist3Start, hist3Width, hist3]];

rowTop.forEach(function (top, r) {
  var h = hists[r];
  var bars = h[2].map(function (v, i) { return {x: h[0] + (i + 0.5) * h[1], y: v}; });
  makePanel(530, top, 485, 29, 11, {
    type: 'bar',
    data: {datasets: [
      {type: 'line', label: 'Asymptotic distribution', data: zip(asymX, asymY),
       borderColor: '#000000', borderWidth: 1.5, pointRadius: 0, tension: 0, order: 0},
      {type: 'line', label: 'Analytical distribution', data: zip(anaX[r], anaY[r]),
       borderColor: '#ff0000', borderWidth: 1.5, pointRadius: 0, tension: 0, order: 1},
      {type: 'bar', label: 'Numerical distribution', data: bars,
       backgroundColor: '#0000ff', borderColor: '#000000', borderWidth: 1, borderSkipped: false,
       barPercentage: 1, categoryPercentage: 1, order: 2}
    ]},
    options: {
      plugins: {legend: {display: false}, tooltip: {enabled: false},
                frame: {title: ['Distributions of ', ', t=' + distTimes[r] + ' s'], legend: true}},
      scales: {
        x: {type: 'linear', min: 0, max: 5, offset: false, grid: {display: false, drawTicks: false}, border: {display: false},
            ticks: axisTicks(1, function (v) { return v; }), title: xTitle('x')},
        y: {min: 0, max: 3, grid: {display: false, drawTicks: false}, border: {display: false},
            ticks: Object.assign(axisTicks(0.5, function (v) { return v.toFixed(1); }), {padding: 4})}
      }
    }
  });
});
</script>
</body>
</html>
